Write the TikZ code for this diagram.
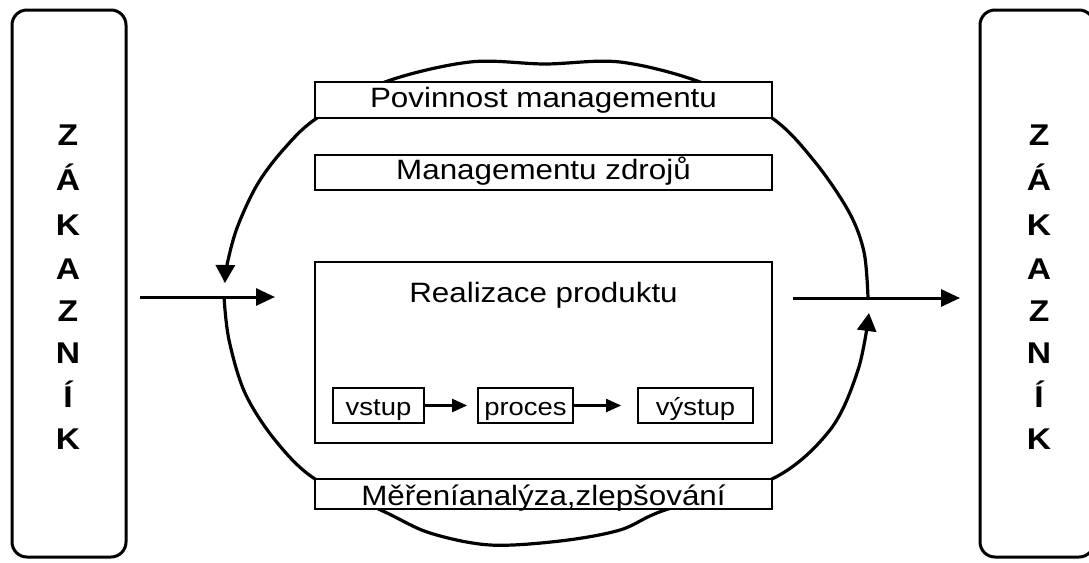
\documentclass[tikz,border=0pt]{standalone}
\usepackage{fontspec}
\setmainfont{Liberation Sans}[FakeStretch=1.12]
\usetikzlibrary{arrows.meta}

\begin{document}
\begin{tikzpicture}[x=1pt,y=-1pt,
  panel/.style={draw, line width=3pt, rounded corners=15pt},
  bar/.style={draw, fill=white, line width=1.8pt, minimum width=457pt,
    inner sep=0pt, font=\fontsize{28}{30}\selectfont},
  stage/.style={draw, fill=white, line width=1.8pt, minimum height=35pt,
    inner sep=0pt, text height=19pt, text depth=0pt,
    font=\fontsize{24.5}{26}\selectfont},
  flow/.style={line width=3pt, -{Triangle[length=19pt,width=17pt]}},
  stageflow/.style={line width=2.2pt, -{Triangle[length=15pt,width=13pt]}},
  loop/.style={line width=3.2pt, -{Triangle[length=18pt,width=19pt]}},
  letter/.style={font=\bfseries\fontsize{30}{30}\selectfont, anchor=base, inner sep=0pt}
]
\useasboundingbox (0,0) rectangle (1089,562);

% customer panels on both sides
\draw[panel] (12,10) rectangle (126,557);
\draw[panel] (980,10) rectangle (1094,557);
\foreach \ch/\yy [count=\i] in {Z/145, Á/190, K/235, A/279, Z/321, N/363, Í/407, K/449}{
  \node[letter] (lz\i) at (68,\yy) {\ch};
  \node[letter] (rz\i) at (1039,\yy) {\ch};
}

% improvement cycle: upper half runs right to left, lower half left to right
\draw[loop] plot[smooth, tension=0.55] coordinates {
  (868,298) (864,252) (849,212) (815,162) (772,118) (700,82) (620,62)
  (545,64) (470,62) (385,82) (317,118) (283,150) (257,185) (237,228)
  (227,265) (225,283)};
\draw[loop] plot[smooth, tension=0.55] coordinates {
  (224,297) (229,340) (245,393) (275,440) (315,479) (385,512) (430,533)
  (490,545) (560,541) (620,530) (665,510) (772,479) (830,430) (858,370)
  (869,313)};

% management bars
\node[bar, minimum height=36pt, text height=20pt, text depth=6pt] (duty)
  at (543.5,100) {Povinnost managementu};
\node[bar, minimum height=35pt, text height=20pt, text depth=6pt] (res)
  at (543.5,172.5) {Managementu zdrojů};
\node[bar, minimum height=30pt, text height=22pt, text depth=0pt] (meas)
  at (543.5,494) {Měřeníanalýza,zlepšování};

% product realisation
\node[draw, fill=white, line width=1.8pt, minimum width=457pt, minimum height=181pt,
  inner sep=0pt] (real) at (543.5,352.5) {};
\node[font=\fontsize{28}{30}\selectfont, inner sep=0pt, anchor=base] (realt)
  at (543.5,302) {Realizace produktu};

\node[stage, minimum width=91pt] (vstup) at (378.5,405.5) {vstup};
\node[stage, minimum width=95pt] (proces) at (525.5,405.5) {proces};
\node[stage, minimum width=115pt] (vystup) at (695.5,405.5) {výstup};
\draw[stageflow, shorten >=10pt] (vstup.east) -- (proces.west);
\draw[stageflow, shorten >=16pt] (proces.east) -- (vystup.west);

% customer input and output
\coordinate (inA) at (140,297);
\coordinate (inB) at (275,297);
\coordinate (outA) at (793,298);
\coordinate (outB) at (960,298);
\draw[flow] (inA) -- (inB);
\draw[flow] (outA) -- (outB);
\end{tikzpicture}
\end{document}
